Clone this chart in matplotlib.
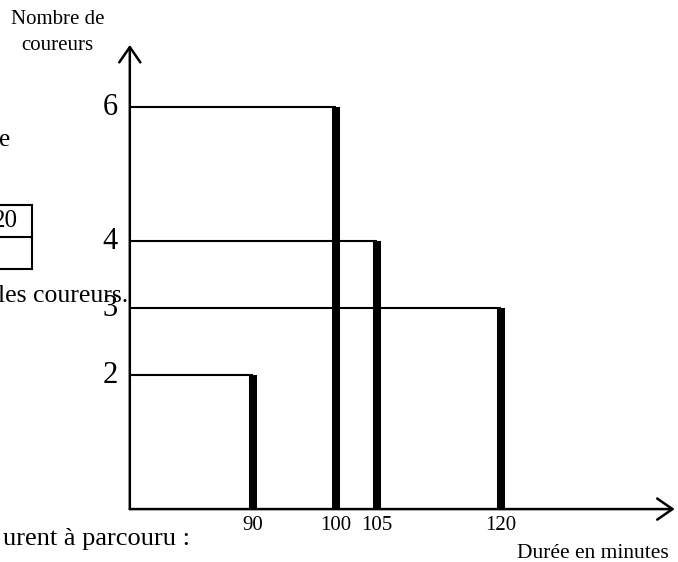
import matplotlib
matplotlib.use("Agg")
import matplotlib.pyplot as plt
from matplotlib.lines import Line2D

# durée (minutes) -> nombre de coureurs
durees = [90, 100, 105, 120]
coureurs = [2, 6, 4, 3]
yticks = [2, 3, 4, 6]
x_origin, x_end, y_end = 75.1, 141.0, 6.93

W, H = 678, 562
plt.rcParams["font.family"] = ["Liberation Serif", "DejaVu Serif"]

fig = plt.figure(figsize=(W / 100, H / 100), dpi=100)
ax = fig.add_axes([0, 0, 1, 1])
ax.set_xlim(59.4, 141.4)
ax.set_ylim(-0.79, 7.6)
ax.axis("off")


def ftxt(px, py, s, **kw):
    # text placed in figure pixels (top-left origin)
    fig.text(px / W, 1 - py / H, s, **kw)


def fline(xs, ys, lw=1.5):
    fig.add_artist(Line2D([x / W for x in xs], [1 - y / H for y in ys], color="black", lw=lw))


# axes with open arrowheads
arrow = dict(arrowstyle="->,head_length=0.55,head_width=0.38", lw=1.8, color="black",
             shrinkA=0, shrinkB=0, mutation_scale=20)
ax.annotate("", xy=(x_end, 0), xytext=(x_origin, 0), arrowprops=arrow)
ax.annotate("", xy=(x_origin, y_end), xytext=(x_origin, 0), arrowprops=arrow)

# horizontal guide lines and thick bars
ax.hlines(coureurs, x_origin, durees, color="black", lw=1.5)
ax.vlines(durees, 0, coureurs, color="black", lw=5.8)

for v in yticks:
    ax.text(x_origin - 1.5, v, str(v), fontsize=22, ha="right", va="center")
for d in durees:
    ax.text(d, -0.1, str(d), fontsize=15, ha="center", va="top")

ftxt(58, 20, "Nombre de", fontsize=15, ha="center", va="center")
ftxt(57, 45, "coureurs", fontsize=15, ha="center", va="center")
ftxt(593, 554, "Durée en minutes", fontsize=15.5, ha="center", va="center")

# fragments of the surrounding page
ftxt(10, 140, "e", fontsize=18, ha="right", va="center")
ftxt(18, 221, "20", fontsize=18, ha="right", va="center")
ftxt(128, 296, "les coureurs.", fontsize=18.5, ha="right", va="center")
ftxt(190, 539, "urent à parcouru :", fontsize=19, ha="right", va="center")
fline([0, 32], [205, 205])
fline([0, 32], [237, 237])
fline([0, 32], [269, 269])
fline([32, 32], [205, 269])

fig.savefig("out.png", dpi=100)
